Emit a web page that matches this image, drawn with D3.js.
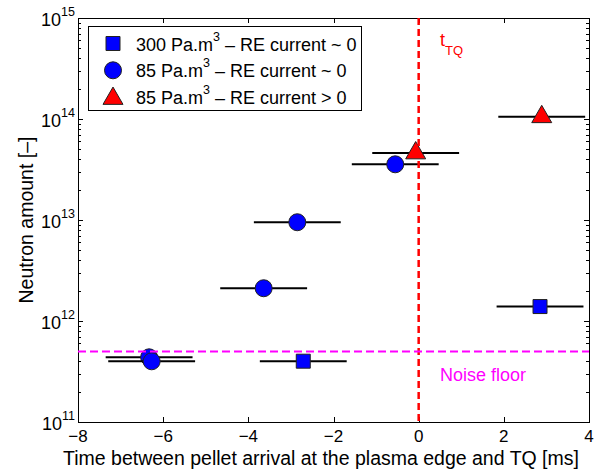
<!DOCTYPE html>
<html>
<head>
<meta charset="utf-8">
<script src="https://cdn.jsdelivr.net/npm/d3@7"></script>
<style>
  body { margin: 0; background: #fff; }
  svg { display: block; font-family: "Liberation Sans", Arial, sans-serif; }
</style>
</head>
<body>
<svg id="chart" width="608" height="470"></svg>
<script>
// Neutron amount vs. time between pellet arrival and thermal quench
const squareX = [-2.71, 2.85];
const squareY = [4.0e11, 1.39e12];
const circleX = [-6.33, -6.27, -3.64, -2.85, -0.55];
const circleY = [4.37e11, 3.99e11, 2.11e12, 9.5e12, 3.56e13];
const triangleX = [-0.07, 2.89];
const triangleY = [4.6e13, 1.05e14];
const xErr = 1.02;            // half-width of the timing uncertainty [ms]
const noiseFloor = 5e11;
const tTQ = 0;

const xTicks = [-8, -6, -4, -2, 0, 2, 4];
const yDecades = [11, 12, 13, 14, 15];
const legendLabels = [
  "300 Pa.m|3| – RE current ~ 0",
  "85 Pa.m|3| – RE current ~ 0",
  "85 Pa.m|3| – RE current > 0"
];

const svg = d3.select("#chart");
const pLeft = 78, pRight = 589, pTop = 18, pBottom = 422;

const x = d3.scaleLinear().domain([-8, 4]).range([pLeft, pRight]);
const y = d3.scaleLog().domain([1e11, 1e15]).range([pBottom, pTop]);

// Frame
svg.append("rect")
  .attr("x", pLeft + 0.5).attr("y", pTop + 0.5)
  .attr("width", pRight - pLeft).attr("height", pBottom - pTop)
  .attr("fill", "#fff").attr("stroke", "#000").attr("stroke-width", 1);

// Ticks (inward, on all four sides)
const tickG = svg.append("g").attr("stroke", "#000").attr("stroke-width", 1);
xTicks.forEach(v => {
  const px = Math.round(x(v)) + 0.5;
  tickG.append("line").attr("x1", px).attr("x2", px).attr("y1", pBottom).attr("y2", pBottom - 5);
  tickG.append("line").attr("x1", px).attr("x2", px).attr("y1", pTop).attr("y2", pTop + 5);
});
const minorVals = [];
for (let d = 11; d < 15; d++) for (let m = 2; m <= 9; m++) minorVals.push(m * Math.pow(10, d));
minorVals.forEach(v => {
  const py = Math.round(y(v)) + 0.5;
  tickG.append("line").attr("x1", pLeft).attr("x2", pLeft + 3).attr("y1", py).attr("y2", py);
  tickG.append("line").attr("x1", pRight).attr("x2", pRight - 3).attr("y1", py).attr("y2", py);
});
yDecades.forEach(d => {
  const py = Math.round(y(Math.pow(10, d))) + 0.5;
  tickG.append("line").attr("x1", pLeft).attr("x2", pLeft + 5).attr("y1", py).attr("y2", py);
  tickG.append("line").attr("x1", pRight).attr("x2", pRight - 5).attr("y1", py).attr("y2", py);
});

// Tick labels
svg.append("g").selectAll("text").data(xTicks).join("text")
  .attr("x", d => x(d)).attr("y", pBottom + 20)
  .attr("text-anchor", "middle").attr("font-size", 17)
  .text(d => d < 0 ? "\u2212" + Math.abs(d) : d);

const yl = svg.append("g").selectAll("text").data(yDecades).join("text")
  .attr("x", pLeft - 3).attr("y", d => y(Math.pow(10, d)) + 8)
  .attr("text-anchor", "end").attr("font-size", 18);
yl.append("tspan").text("10");
yl.append("tspan").attr("font-size", 12.5).attr("dy", -10).text(d => d);

// Axis titles
svg.append("text")
  .attr("x", 321).attr("y", 465)
  .attr("text-anchor", "middle").attr("font-size", 19.5)
  .text("Time between pellet arrival at the plasma edge and TQ [ms]");
svg.append("text")
  .attr("transform", `translate(33,${(pTop + pBottom) / 2}) rotate(-90)`)
  .attr("text-anchor", "middle").attr("font-size", 19.5)
  .text("Neutron amount [\u2013]");

// Series drawing: horizontal error bars then markers
const sym = {
  square: d3.symbol().type(d3.symbolSquare).size(196),
  circle: d3.symbol().type(d3.symbolCircle).size(Math.PI * 8.5 * 8.5),
  triangle: d3.symbol().type(d3.symbolTriangle).size(173)
};
function drawSeries(xs, ys, shape, fill) {
  const g = svg.append("g");
  xs.forEach((xv, i) => {
    g.append("line")
      .attr("x1", x(xv - xErr)).attr("x2", x(xv + xErr))
      .attr("y1", y(ys[i])).attr("y2", y(ys[i]))
      .attr("stroke", "#000").attr("stroke-width", 2);
    g.append("path")
      .attr("d", sym[shape]())
      .attr("transform", `translate(${x(xv)},${y(ys[i])})`)
      .attr("fill", fill).attr("stroke", "#222").attr("stroke-width", 1);
  });
}
drawSeries(squareX, squareY, "square", "#0000ff");
drawSeries(circleX, circleY, "circle", "#0000ff");
drawSeries(triangleX, triangleY, "triangle", "#ff0000");

// Reference lines
svg.append("line")
  .attr("x1", x(tTQ)).attr("x2", x(tTQ)).attr("y1", pTop).attr("y2", pBottom)
  .attr("stroke", "#ff0000").attr("stroke-width", 2.5).attr("stroke-dasharray", "7,4");
svg.append("line")
  .attr("x1", pLeft).attr("x2", pRight).attr("y1", y(noiseFloor)).attr("y2", y(noiseFloor))
  .attr("stroke", "#ff00ff").attr("stroke-width", 2).attr("stroke-dasharray", "8,4");

// Annotations
const tq = svg.append("text").attr("x", 440).attr("y", 46)
  .attr("fill", "#ff0000").attr("font-size", 18);
tq.append("tspan").text("t");
tq.append("tspan").attr("font-size", 13).attr("dy", 9).text("TQ");
svg.append("text").attr("x", 440).attr("y", 381)
  .attr("fill", "#ff00ff").attr("font-size", 18).text("Noise floor");

// Legend
const lg = svg.append("g");
lg.append("rect").attr("x", 88.5).attr("y", 26.5).attr("width", 273).attr("height", 84)
  .attr("fill", "#fff").attr("stroke", "#000").attr("stroke-width", 1);
const legendShapes = [["square", "#0000ff"], ["circle", "#0000ff"], ["triangle", "#ff0000"]];
legendLabels.forEach((lab, i) => {
  const cy = 43.5 + i * 26.8;
  lg.append("path")
    .attr("d", sym[legendShapes[i][0]]())
    .attr("transform", `translate(113,${cy + (i === 2 ? 1.5 : 0)})`)
    .attr("fill", legendShapes[i][1]).attr("stroke", "#222").attr("stroke-width", 1);
  const parts = lab.split("|");
  const t = lg.append("text").attr("x", 136).attr("y", cy + 7).attr("font-size", 18);
  t.append("tspan").text(parts[0]);
  t.append("tspan").attr("font-size", 12.5).attr("dy", -10).text(parts[1]);
  t.append("tspan").attr("dy", 10).text(parts[2]);
});
</script>
</body>
</html>
